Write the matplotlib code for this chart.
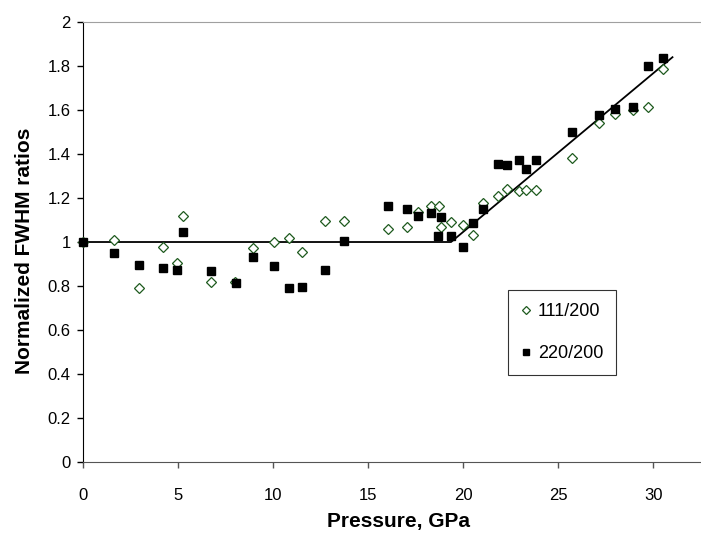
import matplotlib
matplotlib.use('Agg')
import matplotlib.pyplot as plt

plt.rcParams['font.family'] = ['Liberation Sans', 'DejaVu Sans']

# 111/200 ratios (open diamonds)
p_111 = [0.0, 1.61, 2.92, 4.21, 4.91, 5.24, 6.71, 7.98, 8.93, 10.01, 10.80, 11.52,
         12.71, 13.70, 16.03, 17.01, 17.62, 18.29, 18.73, 18.82, 19.33, 19.99,
         20.52, 21.03, 21.81, 22.30, 22.94, 23.29, 23.83, 25.69, 27.11, 28.00,
         28.92, 29.71, 30.51]
r_111 = [1.0, 1.01, 0.79, 0.976, 0.903, 1.118, 0.817, 0.82, 0.971, 1.0, 1.02, 0.955,
         1.097, 1.097, 1.059, 1.067, 1.138, 1.164, 1.164, 1.067, 1.092, 1.076,
         1.032, 1.176, 1.209, 1.241, 1.233, 1.238, 1.235, 1.38, 1.542, 1.58,
         1.60, 1.615, 1.786]

# 220/200 ratios (filled squares)
p_220 = [0.0, 1.61, 2.91, 4.21, 4.91, 5.24, 6.70, 8.02, 8.93, 10.01, 10.82, 11.50,
         12.71, 13.70, 16.03, 17.01, 17.62, 18.29, 18.82, 18.68, 19.33, 19.99,
         20.52, 21.03, 21.81, 22.30, 22.94, 23.29, 23.83, 25.69, 27.11, 28.00,
         28.92, 29.71, 30.51]
r_220 = [1.0, 0.95, 0.895, 0.883, 0.874, 1.047, 0.87, 0.815, 0.933, 0.891, 0.792, 0.795,
         0.874, 1.006, 1.165, 1.15, 1.118, 1.13, 1.115, 1.029, 1.029, 0.977,
         1.088, 1.15, 1.353, 1.349, 1.373, 1.33, 1.373, 1.499, 1.576, 1.606,
         1.614, 1.80, 1.838]

# piecewise trend line
fit_p = [0.0, 19.35, 31.0]
fit_r = [1.0, 1.0, 1.84]

fig = plt.figure(figsize=(7.01, 5.35), dpi=100)
ax = fig.add_axes([0.1188, 0.1364, 0.8812, 0.8225])

ax.plot(fit_p, fit_r, color='black', lw=1.3, zorder=1)
ax.plot(p_111, r_111, linestyle='none', marker='D', ms=5, mfc='white',
        mec='#1e5a1e', mew=0.9, label='111/200', zorder=3, clip_on=False)
ax.plot(p_220, r_220, linestyle='none', marker='s', ms=5.8, mfc='black',
        mec='black', label='220/200', zorder=4, clip_on=False)

ax.set_xlim(0, 32.5)
ax.set_ylim(0, 2)
ax.set_xticks([0, 5, 10, 15, 20, 25, 30])
ax.set_yticks([0, 0.2, 0.4, 0.6, 0.8, 1, 1.2, 1.4, 1.6, 1.8, 2])
ax.set_yticklabels(['0', '0.2', '0.4', '0.6', '0.8', '1', '1.2', '1.4', '1.6', '1.8', '2'])
ax.tick_params(axis='both', direction='out', length=4.3, width=1, labelsize=12)
ax.tick_params(axis='x', colors='#555555', labelcolor='black', pad=14.5)
ax.tick_params(axis='y', pad=4.8)

ax.spines['right'].set_visible(False)
ax.spines['top'].set_color('#a0a0a0')
ax.spines['bottom'].set_color('#555555')
ax.spines['left'].set_color('black')

ax.set_xlabel('Pressure, GPa', fontsize=15, fontweight='bold', va='center')
ax.set_ylabel('Normalized FWHM ratios', fontsize=15, fontweight='bold', va='center')
ax.xaxis.set_label_coords(0.511, -0.136)
ax.yaxis.set_label_coords(-0.0944, 0.48)

leg = ax.legend(loc='upper left', bbox_to_anchor=(0.688, 0.391), frameon=True,
                fancybox=False, edgecolor='black', fontsize=13,
                handlelength=0.49, handletextpad=0.42, labelspacing=1.4,
                borderpad=0.72, borderaxespad=0, markerscale=0.8)
leg.get_frame().set_linewidth(0.8)

fig.savefig('out.png', dpi=100)
